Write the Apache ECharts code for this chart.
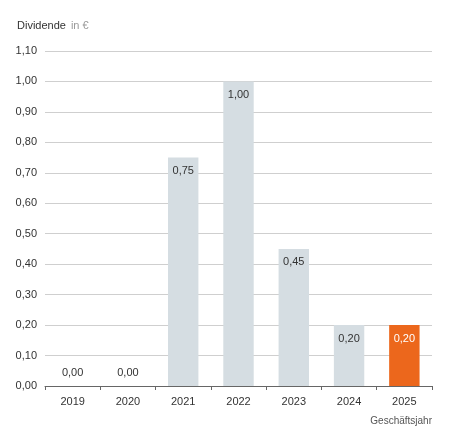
<!DOCTYPE html>
<html>
<head>
<meta charset="utf-8">
<script src="https://cdn.jsdelivr.net/npm/echarts@6/dist/echarts.min.js"></script>
<style>
  html, body { margin: 0; padding: 0; background: #fff; }
  #chart { width: 450px; height: 440px; }
</style>
</head>
<body>
<div id="chart"></div>
<script>
const years = ['2019', '2020', '2021', '2022', '2023', '2024', '2025'];
const dividends = [0, 0, 0.75, 1.0, 0.45, 0.2, 0.2];

const fmt = v => v.toFixed(2).replace('.', ',');
const font = 'Helvetica, "Liberation Sans", Arial, sans-serif';

const chart = echarts.init(document.getElementById('chart'));
chart.setOption({
  backgroundColor: '#ffffff',
  animation: false,
  textStyle: { fontFamily: font },
  title: {
    text: '{a|Dividende} {b|in €}',
    left: 12,
    top: 12,
    textStyle: {
      fontWeight: 'normal',
      rich: {
        a: { color: '#333', fontSize: 11, fontFamily: font, fontWeight: 'normal' },
        b: { color: '#999', fontSize: 11, fontFamily: font, fontWeight: 'normal' }
      }
    }
  },
  grid: { left: 45, right: 18, top: 51, bottom: 54 },
  xAxis: {
    type: 'category',
    data: years,
    name: 'Geschäftsjahr',
    nameLocation: 'end',
    nameGap: 0,
    nameTextStyle: { color: '#555', fontSize: 10, align: 'right', verticalAlign: 'top', padding: [30, 0, 0, 0] },
    axisLine: { lineStyle: { color: '#666', width: 1 } },
    axisTick: { show: true, length: 4, lineStyle: { color: '#666' } },
    axisLabel: { color: '#333', fontSize: 11, margin: 10 }
  },
  yAxis: {
    type: 'value',
    min: 0,
    max: 1.1,
    interval: 0.1,
    axisLine: { show: false },
    axisTick: { show: false },
    axisLabel: { color: '#333', fontSize: 11, margin: 8, formatter: v => fmt(v) },
    splitLine: { lineStyle: { color: '#cfcfcf', width: 1 } }
  },
  series: [{
    type: 'bar',
    barWidth: '55%',
    data: dividends.map((v, i) => ({
      value: v,
      itemStyle: { color: i === dividends.length - 1 ? '#ec671c' : '#d5dde2' },
      label: {
        color: i === dividends.length - 1 ? '#ffffff' : '#333',
        position: v > 0 ? 'insideTop' : 'top',
        distance: 8
      }
    })),
    label: {
      show: true,
      fontSize: 11,
      formatter: p => fmt(p.value)
    }
  }]
});
</script>
</body>
</html>
